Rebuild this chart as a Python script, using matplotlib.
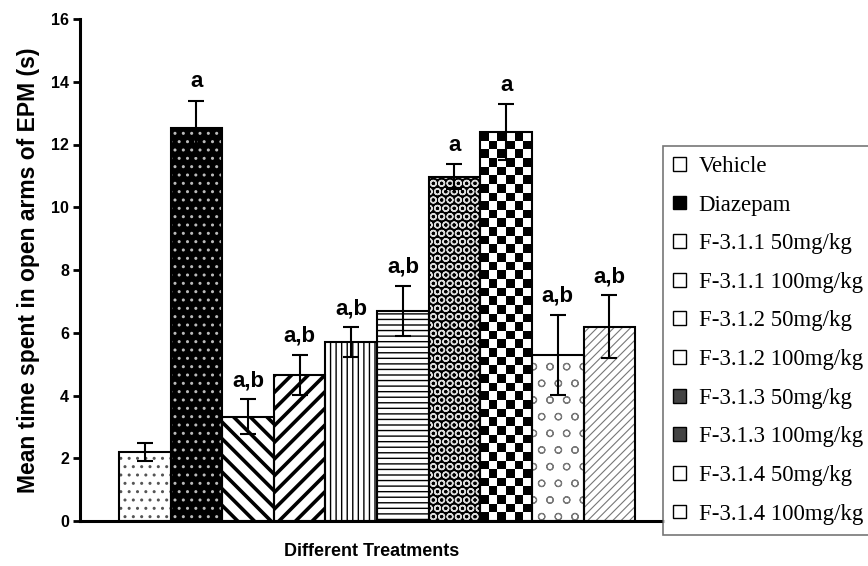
import numpy as np
import matplotlib.pyplot as plt
from matplotlib.patches import Patch

# values
treatments = ["Vehicle", "Diazepam", "F-3.1.1 50mg/kg", "F-3.1.1 100mg/kg",
              "F-3.1.2 50mg/kg", "F-3.1.2 100mg/kg", "F-3.1.3 50mg/kg",
              "F-3.1.3 100mg/kg", "F-3.1.4 50mg/kg", "F-3.1.4 100mg/kg"]
means = [2.20, 12.52, 3.32, 4.65, 5.70, 6.70, 10.97, 12.39, 5.29, 6.19]
errors = [0.28, 0.88, 0.56, 0.64, 0.47, 0.79, 0.40, 0.89, 1.28, 1.00]
letters = ["", "a", "a,b", "a,b", "a,b", "a,b", "a", "a", "a,b", "a,b"]

# fill style per bar: face colour, hatch, hatch colour, hatch linewidth
styles = [
    ("white", "..", "#555555", 1.0),
    ("black", "..", "#bbbbbb", 1.0),
    ("white", "\\\\", "black", 2.6),
    ("white", "//", "black", 2.6),
    ("white", "|||", "black", 1.0),
    ("white", "---", "black", 1.0),
    ("black", "OO", "#dddddd", 1.0),
    ("white", None, "black", 1.0),      # checkerboard drawn separately
    ("white", "o", "#777777", 0.8),
    ("white", "////", "#777777", 0.8),
]

plt.rcParams['font.family'] = ['Liberation Sans', 'DejaVu Sans']

fig = plt.figure(figsize=(8.68, 5.66), dpi=100)
ax = fig.add_axes([80 / 868, 1 - 521 / 566, (663 - 80) / 868, (521 - 19) / 566])

x = np.arange(len(means))
handles = []
for i, (face, hatch, hcol, hlw) in enumerate(styles):
    with plt.rc_context({'hatch.linewidth': hlw}):
        b = ax.bar(x[i], means[i], width=1.0, color=face, hatch=hatch,
                   edgecolor=hcol, linewidth=0, zorder=2)[0]
    try:
        b.set_hatch_linewidth(hlw)
    except AttributeError:
        pass
    if hatch is None:
        # checkerboard pattern clipped to the bar
        bx, bw, bh = b.get_x(), b.get_width(), b.get_height()
        nx = 6
        ny = int(round(bh / (bw / nx * 51.6 / 31.4)))
        board = (np.add.outer(np.arange(ny), np.arange(nx)) % 2).astype(float)
        im = ax.imshow(board, cmap='gray', extent=(bx, bx + bw, 0, bh),
                       aspect='auto', interpolation='nearest', zorder=2.5,
                       origin='lower')
        im.set_clip_path(b)
    # small legend key: mostly white with a hint of the fill
    key_face = {"black": "black"}.get(face, "white")
    if i in (6, 7):
        key_face = "#444444"
    handles.append(Patch(facecolor=key_face, edgecolor='black', linewidth=1))

# outlines
ax.bar(x, means, width=1.0, fill=False, edgecolor='black', linewidth=1.5, zorder=3)

ax.errorbar(x, means, yerr=errors, fmt='none', ecolor='black', elinewidth=1.5,
            capsize=6, capthick=1.5, zorder=4)

for xi, m, e, t in zip(x, means, errors, letters):
    if t:
        ax.text(xi, m + e + 0.42, t, ha='center', va='baseline',
                fontsize=16, fontweight='bold')

ax.set_xlim(-1.256, 10.04)
ax.set_ylim(0, 16)
ax.set_yticks(np.arange(0, 17, 2))
ax.set_xticks([])
for side in ['top', 'right']:
    ax.spines[side].set_visible(False)
ax.spines['left'].set_linewidth(2.2)
ax.spines['bottom'].set_linewidth(2.2)
ax.tick_params(axis='y', direction='out', length=5, width=2, labelsize=11.5, pad=3)
for lab in ax.get_yticklabels():
    lab.set_fontweight('bold')

ax.set_ylabel("Mean time spent in open arms of EPM (s)", fontsize=16.5,
              fontweight='bold', labelpad=8)
ax.set_xlabel("Different Treatments", fontsize=13, fontweight='bold', labelpad=16)

leg = fig.legend(handles, treatments, loc='lower left',
                 bbox_to_anchor=(663 / 868, 1 - 535 / 566),
                 prop={'family': 'Liberation Serif', 'size': 16.5},
                 frameon=True, fancybox=False, edgecolor='#555555',
                 handlelength=0.55, handleheight=0.55, handletextpad=0.55,
                 labelspacing=0.77, borderpad=0.45, borderaxespad=0)
leg.get_frame().set_linewidth(1.2)

fig.savefig("out.png", dpi=100)
